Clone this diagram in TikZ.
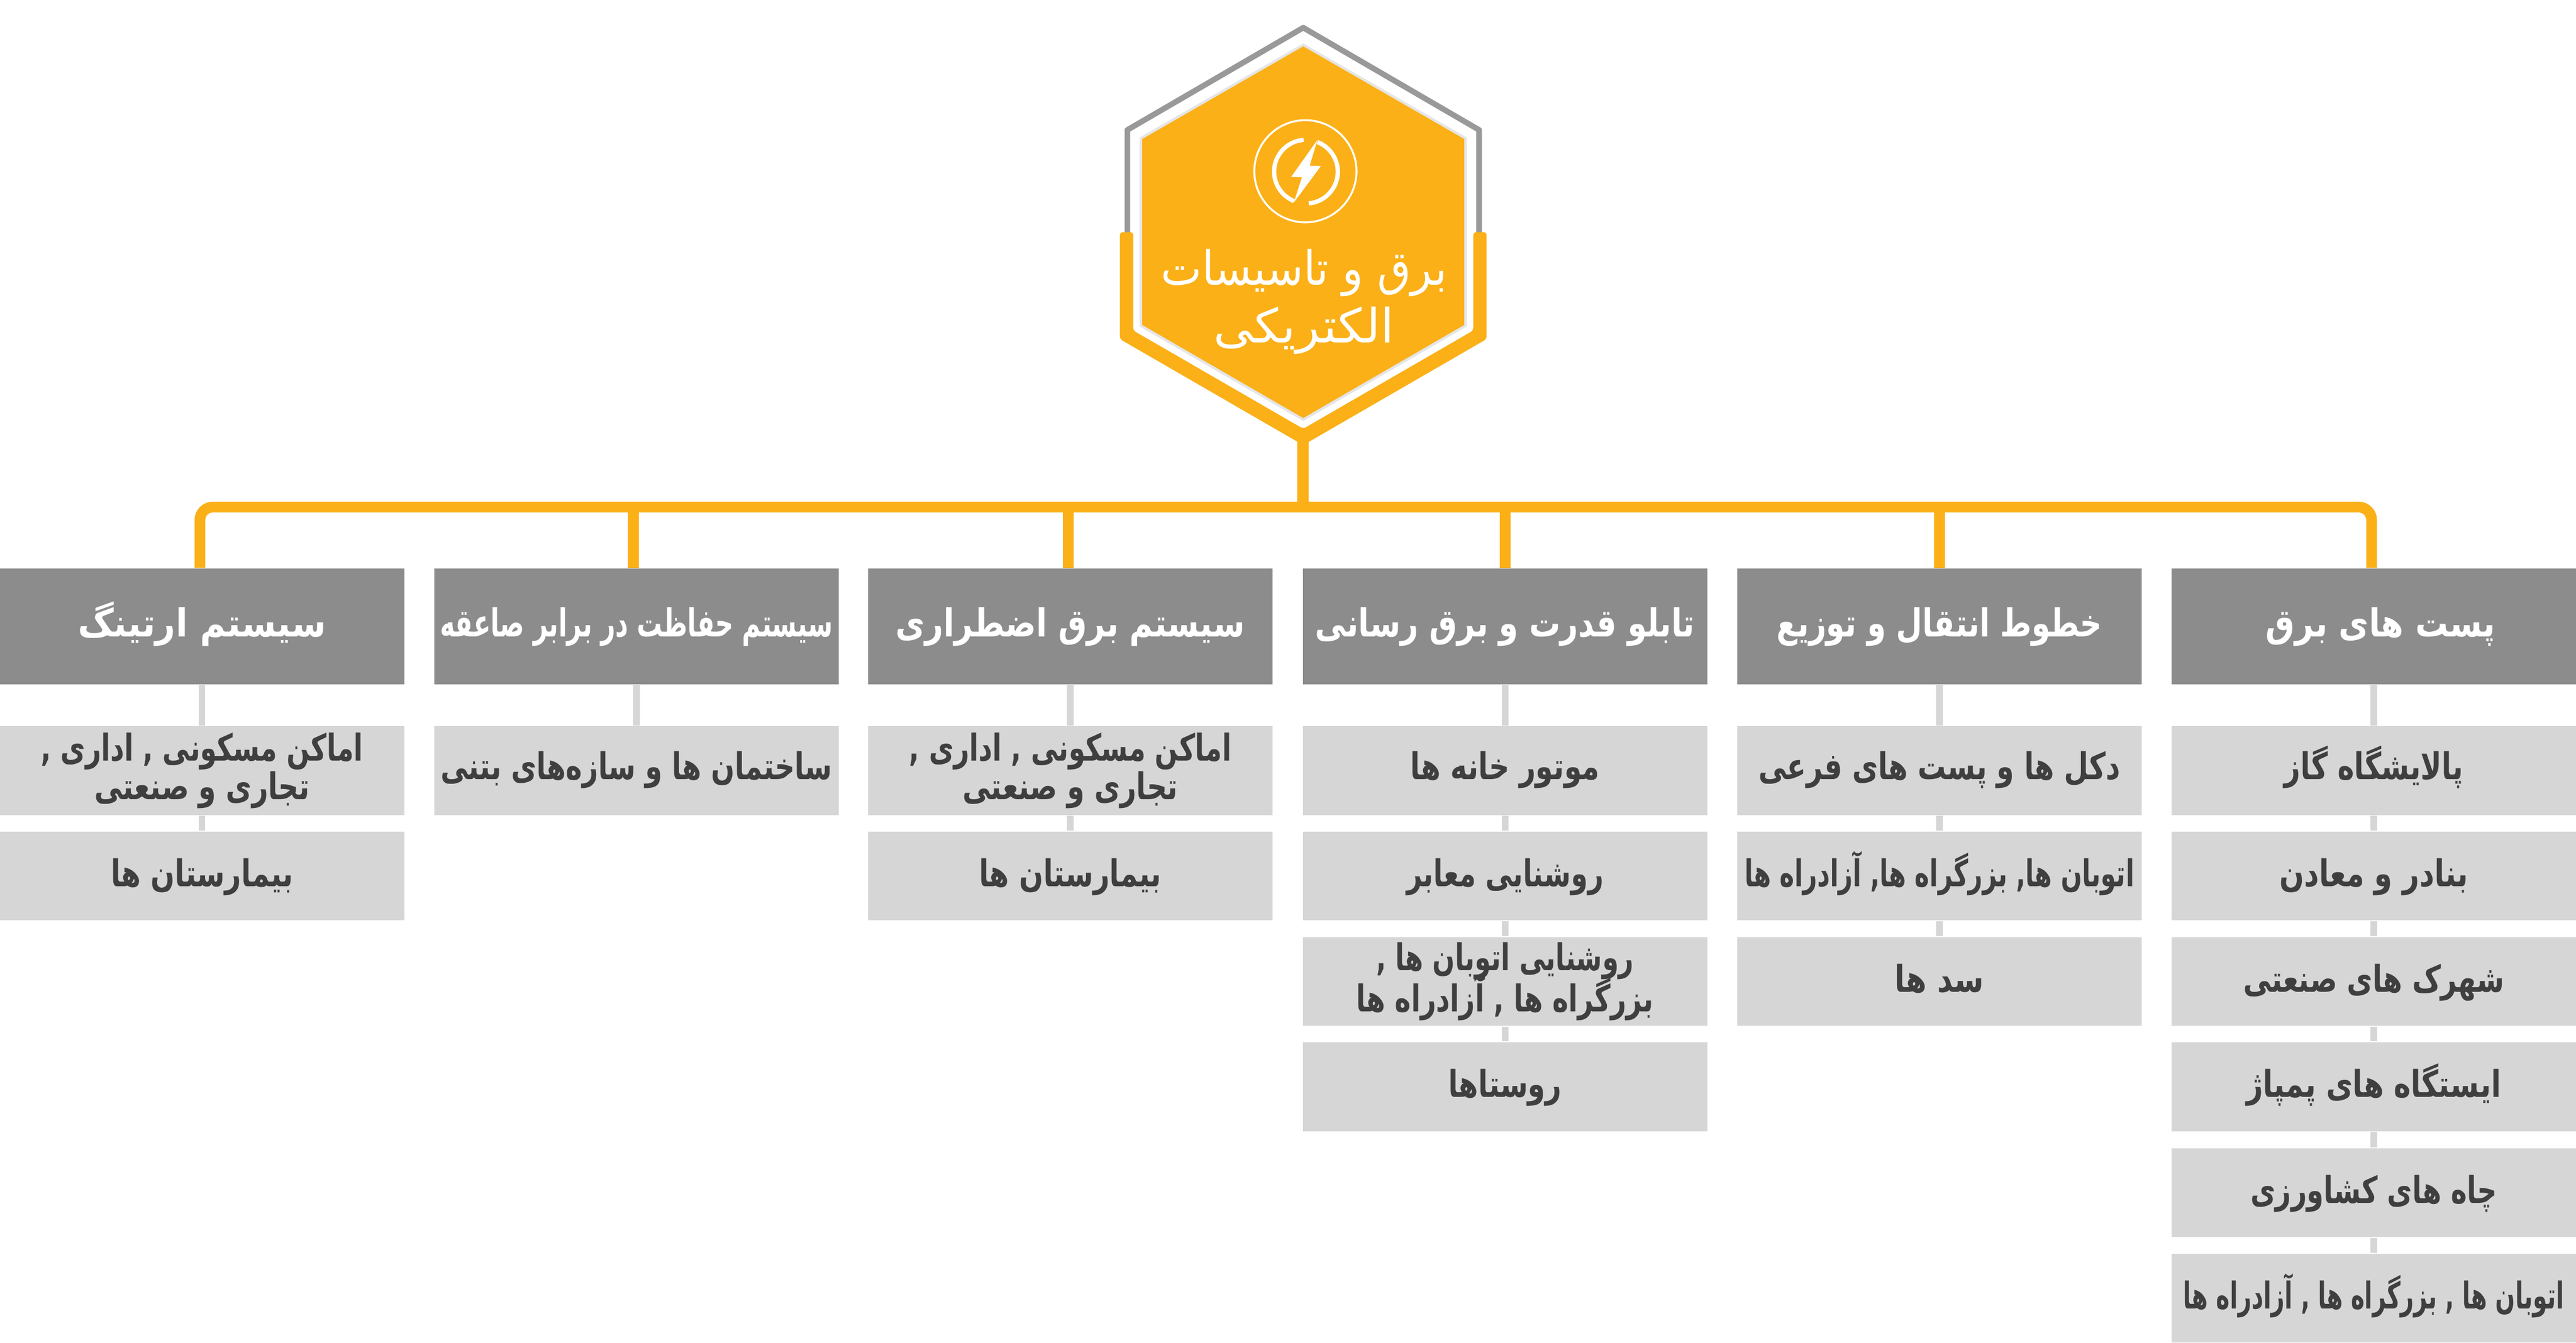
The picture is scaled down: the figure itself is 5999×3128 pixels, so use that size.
\documentclass[tikz,border=0pt]{standalone}
\usepackage{fontspec}
\usepackage{graphicx}
\newfontfamily\afont[Script=Arabic]{DejaVu Sans}
\TeXXeTstate=1
\setlength{\lineskiplimit}{-6pt}
\definecolor{amber}{HTML}{FBB017}
\definecolor{headgray}{HTML}{8C8C8C}
\definecolor{cellgray}{HTML}{D6D6D6}
\definecolor{rimgray}{HTML}{999999}
\definecolor{inkgray}{HTML}{3F3F3F}
\newcommand{\fa}[2]{\resizebox{#1}{\height}{#2}}
\tikzset{
  x=0.1pt,y=-0.1pt,
  headbox/.style={rectangle,fill=headgray,text=white,minimum width=94.2pt,minimum height=26.9pt,inner sep=0pt,text height=6.6pt,text depth=1.9pt,font=\fontsize{9}{11}\selectfont\afont\bfseries},
  cellbox/.style={rectangle,fill=cellgray,text=inkgray,minimum width=94.2pt,minimum height=20.7pt,inner sep=0pt,text height=7.1pt,text depth=2.2pt,font=\fontsize{8.6}{9}\selectfont\afont\bfseries},
  firstcell/.style={cellbox,text height=6.7pt,text depth=2.6pt},
  cellpair/.style={rectangle,fill=cellgray,text=inkgray,minimum width=94.2pt,minimum height=20.7pt,inner sep=0pt,align=center,font=\fontsize{8.6}{9}\selectfont\afont\bfseries},
  titlebox/.style={inner sep=0pt,align=center,text=white,font=\fontsize{11}{13.5}\selectfont\afont},
  bus/.style={draw=amber,line width=2.5pt,rounded corners=3pt},
  drop/.style={draw=amber,line width=2.5pt},
  trunk/.style={draw=amber,line width=2.7pt},
  link/.style={draw=cellgray,line width=1.5pt},
}
\begin{document}
\begin{tikzpicture}
\useasboundingbox[fill=white] (0,0) rectangle (5999,3128);

% hexagon badge
\draw[rimgray,line width=1.3pt,line join=round] (2625.5,545) -- (2625.5,302.7) -- (3035,64.5) -- (3444.5,302.7) -- (3444.5,545);
\fill[amber,rounded corners=0.6pt] (2608,541) -- (2639,541) -- (2639,770) -- (3035,999) -- (3431,770) -- (3431,541) -- (3462,541) -- (3462,790) -- (3035,1037) -- (2608,790) -- cycle;
\draw[black,opacity=0.10,line width=1.2pt] (3035,108) -- (3410,324) -- (3410,757) -- (3035,974) -- (2660,757) -- (2660,324) -- cycle;
\fill[amber] (3035,108) -- (3410,324) -- (3410,757) -- (3035,974) -- (2660,757) -- (2660,324) -- cycle;

% icon
\draw[white,line width=0.45pt] (3040,399) circle[radius=11.9pt];
\draw[white,line width=1pt] (3036,326) arc[start angle=94,end angle=248,radius=7.4pt];
\draw[white,line width=1pt] (3068,331) arc[start angle=69,end angle=-85,radius=7.4pt];
\fill[white] (3068,326) -- (3007,412) -- (3032,413) -- (3013,472) -- (3076,387) -- (3050,386) -- cycle;

\node[titlebox] (title) at (3037,703) {\fa{66.6pt}{\beginR برق و تاسیسات\endR}\\\fa{42.1pt}{\beginR الکتریکی\endR}};

% headers
\node[headbox] (h1) at (470.5,1459.5) {\fa{57.8pt}{\beginR سیستم ارتینگ\endR}};
\node[headbox] (h2) at (1482.5,1459.5) {\fa{91.5pt}{\beginR سیستم حفاظت در برابر صاعقه\endR}};
\node[headbox] (h3) at (2492.5,1459.5) {\fa{81.3pt}{\beginR سیستم برق اضطراری\endR}};
\node[headbox] (h4) at (3505,1459.5) {\fa{88.4pt}{\beginR تابلو قدرت و برق رسانی\endR}};
\node[headbox] (h5) at (4516.5,1459.5) {\fa{75.7pt}{\beginR خطوط انتقال و توزیع\endR}};
\node[headbox] (h6) at (5528,1459.5) {\hspace*{3.2pt}\fa{53.5pt}{\beginR پست های برق\endR}};

% column 1
\node[cellpair] (c1a) at (470.5,1795.5) {\fa{75pt}{\beginR اماکن مسکونی , اداری ,\endR}\\\fa{50.1pt}{\beginR تجاری و صنعتی\endR}};
\node[cellbox] (c1b) at (470.5,2041) {\fa{42.5pt}{\beginR بیمارستان ها\endR}};
% column 2
\node[firstcell] (c2a) at (1482.5,1795.5) {\fa{91.2pt}{\beginR ساختمان ها و سازه‌های بتنی\endR}};
% column 3
\node[cellpair] (c3a) at (2492.5,1795.5) {\fa{75pt}{\beginR اماکن مسکونی , اداری ,\endR}\\\fa{50.1pt}{\beginR تجاری و صنعتی\endR}};
\node[cellbox] (c3b) at (2492.5,2041) {\fa{42.5pt}{\beginR بیمارستان ها\endR}};
% column 4
\node[firstcell] (c4a) at (3505,1795.5) {\fa{44pt}{\beginR موتور خانه ها\endR}};
\node[cellbox] (c4b) at (3505,2041) {\fa{45.9pt}{\beginR روشنایی معابر\endR}};
\node[cellpair] (c4c) at (3505,2287) {\fa{60pt}{\beginR روشنایی اتوبان ها ,\endR}\\[0.6pt]\fa{69.2pt}{\beginR بزرگراه ها , آزادراه ها\endR}};
\node[cellbox] (c4d) at (3505,2532) {\fa{26.4pt}{\beginR روستاها\endR}};
% column 5
\node[firstcell] (c5a) at (4516.5,1795.5) {\fa{84.2pt}{\beginR دکل ها و پست های فرعی\endR}};
\node[cellbox] (c5b) at (4516.5,2041) {\fa{90.8pt}{\beginR اتوبان ها, بزرگراه ها, آزادراه ها\endR}};
\node[cellbox] (c5c) at (4516.5,2287) {\fa{20.8pt}{\beginR سد ها\endR}};
% column 6
\node[firstcell] (c6a) at (5528,1795.5) {\fa{41.7pt}{\beginR پالایشگاه گاز\endR}};
\node[cellbox] (c6b) at (5528,2041) {\fa{44pt}{\beginR بنادر و معادن\endR}};
\node[cellbox] (c6c) at (5528,2287) {\fa{60.8pt}{\beginR شهرک های صنعتی\endR}};
\node[cellbox] (c6d) at (5528,2532) {\fa{59.3pt}{\beginR ایستگاه های پمپاژ\endR}};
\node[cellbox] (c6e) at (5528,2778.5) {\fa{57.4pt}{\beginR چاه های کشاورزی\endR}};
\node[cellbox] (c6f) at (5528,3024.5) {\fa{88.7pt}{\beginR اتوبان ها , بزرگراه ها , آزادراه ها\endR}};

% connectors
\coordinate (hexfoot) at (3034.5,1015);
\coordinate (busjoin) at (3034.5,1181.5);
\draw[trunk] (hexfoot) -- (busjoin);
\draw[bus] ([xshift=-0.5pt]h1.north) |- (busjoin) -| ([xshift=-0.5pt]h6.north);
\foreach \n/\s in {h2/-0.7pt,h3/-0.5pt,h4/0pt,h5/0pt}
  \draw[drop] ([xshift=\s]\n.north) -- ([xshift=\s]\n.north |- busjoin);

\foreach \a/\b in {h1/c1a,c1a/c1b,h2/c2a,h3/c3a,c3a/c3b,h4/c4a,c4a/c4b,c4b/c4c,c4c/c4d,h5/c5a,c5a/c5b,c5b/c5c,h6/c6a,c6a/c6b,c6b/c6c,c6c/c6d,c6d/c6e,c6e/c6f}
  \draw[link] (\a.south) -- (\b.north);
\end{tikzpicture}
\end{document}
